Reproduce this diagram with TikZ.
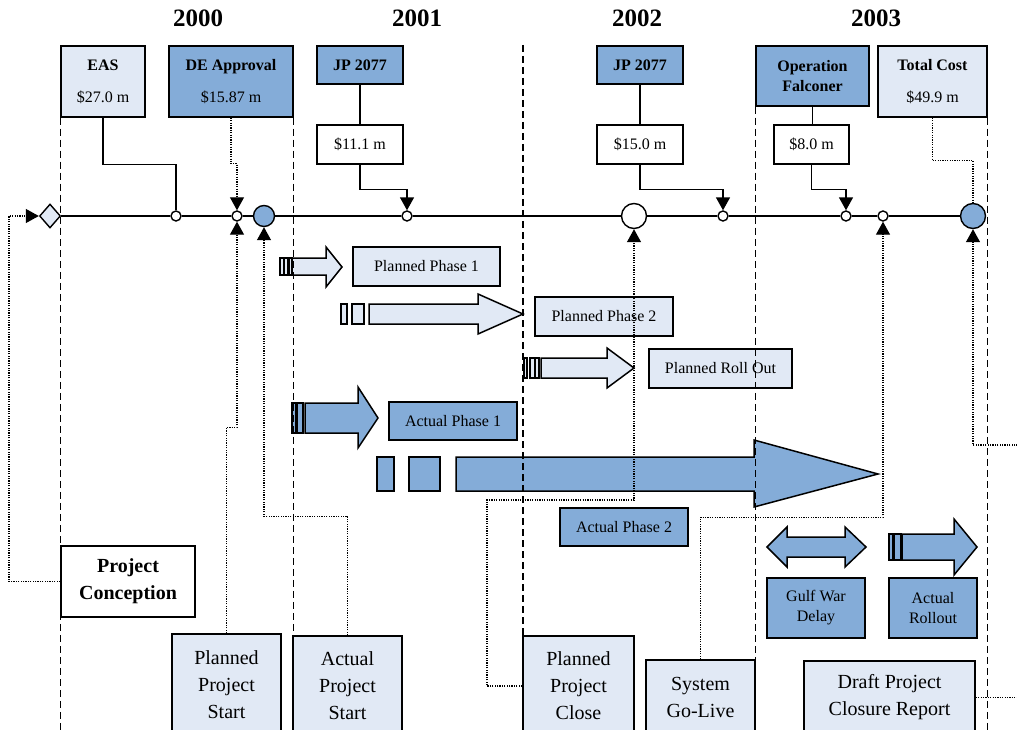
\documentclass[tikz,border=0pt]{standalone}
\usepackage{fontspec}
\setmainfont{Liberation Serif}
\usetikzlibrary{arrows.meta, shapes.geometric, calc}
\definecolor{paleblue}{RGB}{225,233,245}
\definecolor{midblue}{RGB}{132,172,216}

\begin{document}
\begin{tikzpicture}[x=1pt, y=-1pt,
  box/.style={draw, line width=1.5pt, inner sep=0pt, align=center},
  lightbox/.style={box, fill=paleblue},
  bluebox/.style={box, fill=midblue},
  whitebox/.style={box, fill=white},
  ring/.style={circle, draw, line width=1.4pt, fill=white, minimum size=10pt, inner sep=0pt},
  yearlabel/.style={font=\fontsize{25}{30}\selectfont\bfseries},
  topfont/.style={font=\fontsize{16}{18}\selectfont},
  boldfont/.style={font=\fontsize{16}{20}\selectfont\bfseries},
  bigfont/.style={font=\fontsize{20}{27}\selectfont},
  divider/.style={line width=1.3pt, dash pattern=on 7pt off 4pt},
  link/.style={line width=1.5pt},
  dotlink/.style={line width=1.2pt, dash pattern=on 1.2pt off 1.2pt},
  endtip/.style={-{Triangle[length=13pt,width=14pt]}},
  shaft/.style={line width=1.5pt, line join=miter}]

	\useasboundingbox (0,0) rectangle (1017,730);
	\clip (0,0) rectangle (1017,730);

	\coordinate (k1) at (9,216);
	\coordinate (k3) at (487,500);
	\coordinate (k5) at (1030,445);
	\coordinate (d3) at (523,45);

	% block arrows
	\foreach \a/\b in {280/283.5, 284.5/288, 289/292}
		\draw[shaft, fill=paleblue] (\a,258) rectangle (\b,275);
	\draw[shaft, fill=paleblue] (292,258) -- (326,258) -- (326,247) -- (342,267) -- (326,287) -- (326,275) -- (292,275) -- cycle;

	\foreach \a/\b in {341/347, 352/364}
		\draw[shaft, fill=paleblue] (\a,304) rectangle (\b,324);
	\draw[shaft, fill=paleblue] (369,304) -- (478,304) -- (478,294) -- (523,314) -- (478,334) -- (478,324) -- (369,324) -- cycle;

	\foreach \a/\b in {524/527, 530/534.5, 535/539}
		\draw[shaft, fill=paleblue] (\a,358) rectangle (\b,378);
	\draw[shaft, fill=paleblue] (541,358) -- (607,358) -- (607,348) -- (634,368) -- (607,388) -- (607,378) -- (541,378) -- cycle;

	\foreach \a/\b in {292/296, 297/303}
		\draw[shaft, fill=midblue] (\a,403) rectangle (\b,433);
	\draw[shaft, fill=midblue] (305,403) -- (358,403) -- (358,387) -- (378,418) -- (358,448) -- (358,433) -- (305,433) -- cycle;

	\foreach \a/\b in {377/394, 409/440}
		\draw[shaft, fill=midblue] (\a,457) rectangle (\b,491);
	\draw[shaft, fill=midblue] (456,457) -- (754,457) -- (754,440) -- (878,474) -- (754,507) -- (754,491) -- (456,491) -- cycle;

	\draw[shaft, fill=midblue] (767,547) -- (787,527) -- (787,537) -- (845,537) -- (845,527) -- (866,547) -- (845,567) -- (845,557) -- (787,557) -- (787,567) -- cycle;

	\foreach \a/\b in {889/893, 894/901}
		\draw[shaft, fill=midblue] (\a,534) rectangle (\b,560);
	\draw[shaft, fill=midblue] (902,534) -- (954,534) -- (954,519) -- (977,547) -- (954,575) -- (954,560) -- (902,560) -- cycle;

	% years
	\node[yearlabel] (y0) at (198,18) {2000};
	\node[yearlabel] (y1) at (417,18) {2001};
	\node[yearlabel] (y2) at (637,18) {2002};
	\node[yearlabel] (y3) at (876,18) {2003};

	% funding boxes
	\node[lightbox, topfont, minimum width=84pt, minimum height=71pt] (eas) at (103,81.5) {\textbf{EAS}\\[14pt]\$27.0 m};
	\node[bluebox, topfont, minimum width=124pt, minimum height=71pt] (deapp) at (231,81.5) {\textbf{DE Approval}\\[14pt]\$15.87 m};
	\node[bluebox, boldfont, minimum width=86pt, minimum height=38pt] (jpa) at (360,65) {JP 2077};
	\node[whitebox, topfont, minimum width=86pt, minimum height=39pt] (ma) at (360,144.5) {\$11.1 m};
	\node[bluebox, boldfont, minimum width=86pt, minimum height=38pt] (jpb) at (640,65) {JP 2077};
	\node[whitebox, topfont, minimum width=86pt, minimum height=39pt] (mb) at (640,144.5) {\$15.0 m};
	\node[bluebox, boldfont, minimum width=113pt, minimum height=60pt] (opf) at (812.5,76) {Operation\\Falconer};
	\node[whitebox, topfont, minimum width=75pt, minimum height=39pt] (mc) at (811.5,144.5) {\$8.0 m};
	\node[lightbox, topfont, minimum width=109pt, minimum height=71pt] (tot) at (932.5,81.5) {\textbf{Total Cost}\\[14pt]\$49.9 m};

	% phase boxes
	\node[lightbox, topfont, minimum width=147pt, minimum height=39pt] (pp1) at (426.5,266.5) {Planned Phase 1};
	\node[lightbox, topfont, minimum width=138pt, minimum height=39pt] (pp2) at (604,316.5) {Planned Phase 2};
	\node[lightbox, topfont, minimum width=143pt, minimum height=39pt] (pro) at (720.5,368.5) {Planned Roll Out};
	\node[bluebox, topfont, minimum width=128pt, minimum height=38pt] (ap1) at (453,421) {Actual Phase 1};
	\node[bluebox, topfont, minimum width=128pt, minimum height=38pt] (ap2) at (624,527) {Actual Phase 2};
	\node[bluebox, font=\fontsize{16}{20}\selectfont, minimum width=98pt, minimum height=60pt] (gwd) at (816,608) {Gulf War\\Delay};
	\node[bluebox, font=\fontsize{16}{20}\selectfont, minimum width=88pt, minimum height=60pt] (aro) at (933,608) {Actual\\Rollout};

	% milestone boxes
	\node[whitebox, font=\fontsize{20}{27}\selectfont\bfseries, minimum width=134pt, minimum height=71pt] (pc) at (128,581.5) {Project\\Conception};
	\node[lightbox, bigfont, minimum width=109pt, minimum height=102pt] (pps) at (226.5,685) {Planned\\Project\\Start};
	\node[lightbox, bigfont, minimum width=109pt, minimum height=100pt] (aps) at (347.5,686) {Actual\\Project\\Start};
	\node[lightbox, bigfont, minimum width=111pt, minimum height=100pt] (ppc) at (578.5,686) {Planned\\Project\\Close};
	\node[lightbox, bigfont, minimum width=109pt, minimum height=74pt] (sgl) at (700.5,697) {System\\Go-Live};
	\node[lightbox, bigfont, minimum width=171pt, minimum height=73pt] (dpc) at (889.5,697.5) {Draft Project\\Closure Report};

	% timeline
	\node[diamond, draw, line width=1.4pt, fill=paleblue, minimum width=21pt, minimum height=24pt, inner sep=0pt] (dia) at (50,216) {};
	\node[ring] (c1) at (176,216) {};
	\node[ring] (c2) at (237,216) {};
	\node[ring, fill=midblue, minimum size=21pt] (b1) at (264,216) {};
	\node[ring] (c3) at (407,216) {};
	\node[ring, minimum size=25pt] (w1) at (634,216) {};
	\node[ring] (c4) at (723,216) {};
	\node[ring] (c5) at (846,216) {};
	\node[ring] (c6) at (883,216) {};
	\node[ring, fill=midblue, minimum size=25pt] (b2) at (973,216) {};

	\draw[link] (dia) -- (c1) -- (c2) -- (b1) -- (c3) -- (w1) -- (c4) -- (c5) -- (c6) -- (b2);

	% year dividers
	\draw[divider] (eas.south west) -- ++(0,620);
	\draw[divider] (deapp.south east) -- ++(0,620);
	\draw[divider] (d3) -- ++(0,700);
	\draw[divider] (opf.south west) -- ++(0,630);
	\draw[divider] (tot.south east) -- ++(0,620);

	% funding links
	\draw[link] (eas.south) -- ++(0,47) -| (c1);
	\draw[dotlink, endtip] (deapp.south) -- ++(0,46) -| (c2);
	\draw[link] (jpa) -- (ma);
	\draw[link, endtip] (ma.south) -- ++(0,25) -| (c3);
	\draw[link] (jpb) -- (mb);
	\draw[link, endtip] (mb.south) -- ++(0,25) -| (c4);
	\draw[link] (opf.south) -- (opf.south |- mc.north);
	\draw[link, endtip] (mc.south) -- ++(0,25) -| (c5);
	\draw[dotlink] (tot.south) -- ++(0,43) -| (b2);

	% milestone links
	\draw[dotlink, endtip] (pc.west) -| (k1) -- (dia);
	\draw[dotlink, endtip] (pps.north) -- ++(0,-206) -| (c2);
	\draw[dotlink, endtip] (aps.north) -- ++(0,-119) -| (b1);
	\draw[dotlink, endtip] (ppc.west) -| (k3) -| (w1);
	\draw[dotlink, endtip] (sgl.north) -- ++(0,-142) -| (c6);
	\draw[dotlink, endtip] (dpc.east) -| (k5) -| (b2);

\end{tikzpicture}
\end{document}
